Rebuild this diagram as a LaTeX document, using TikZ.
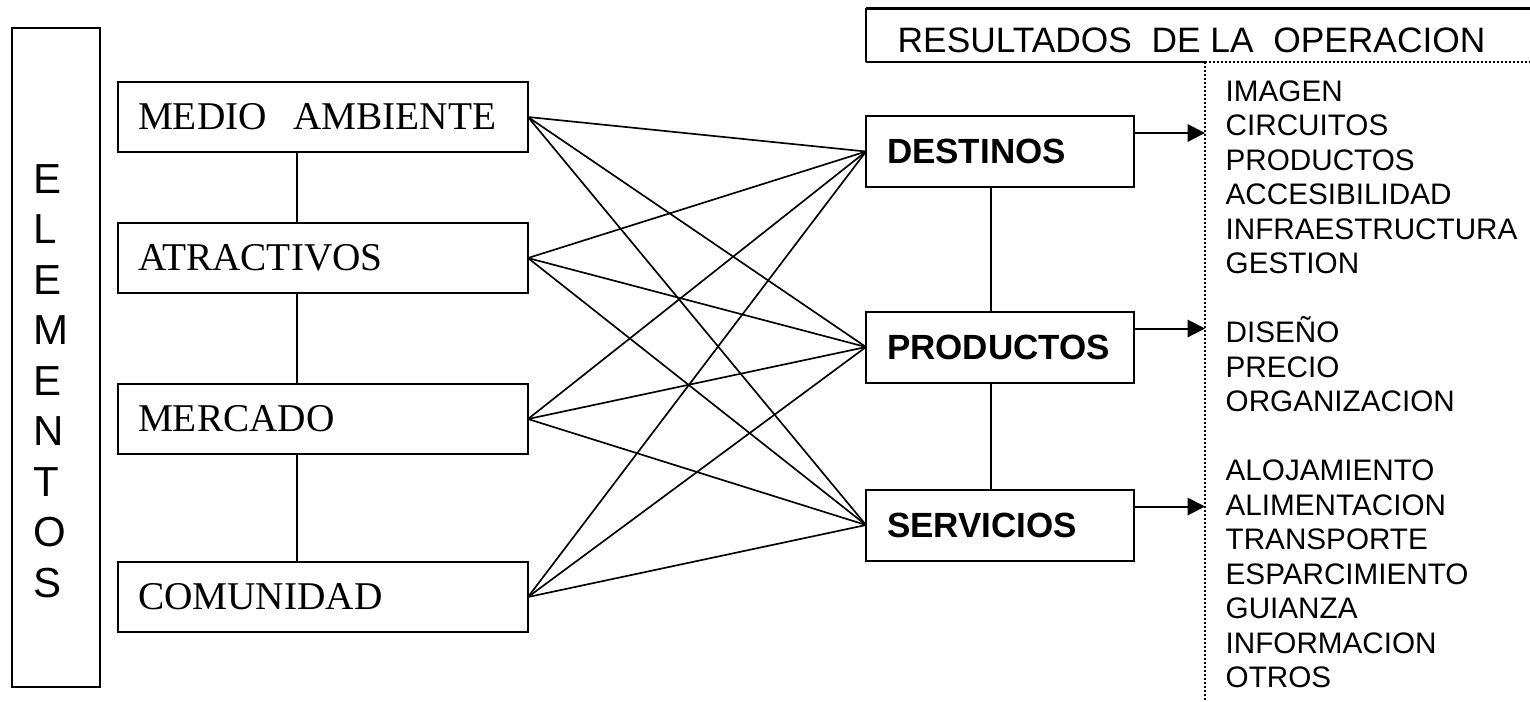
\documentclass[tikz,border=0pt]{standalone}
\usepackage{fontspec}
\setmainfont{Liberation Serif}
\newfontfamily\arialfont{Liberation Sans}
\usetikzlibrary{arrows.meta}
\newcommand{\px}{0.3pt}

\begin{document}
\begin{tikzpicture}[x=0.3pt,y=-0.3pt]
		\tikzstyle{elembox}=[draw, line width=0.6pt, outer sep=0pt, minimum height=70*\px, text width=370*\px, inner xsep=20*\px, align=left, font=\fontsize{11.8}{14}\selectfont]
		\tikzstyle{opbox}=[draw, line width=0.6pt, outer sep=0pt, minimum height=71*\px, text width=226*\px, inner xsep=21*\px, align=left, font=\arialfont\bfseries\fontsize{10.5}{12}\selectfont]
		\tikzstyle{letra}=[inner sep=0pt, font=\arialfont\fontsize{12.6}{14}\selectfont]
		\tikzstyle{item}=[inner sep=0pt, font=\arialfont\fontsize{8.9}{10}\selectfont]
		\tikzstyle{cruce}=[line width=0.5pt]
		\tikzstyle{union}=[line width=0.6pt]
		\tikzstyle{flecha}=[line width=0.6pt, -{Triangle[length=5.2pt,width=5.2pt]}]
		\tikzstyle{punteado}=[line width=0.6pt, dash pattern=on 0.6pt off 0.6pt]
		\useasboundingbox (0,0) rectangle (1530,701);

		% columna ELEMENTOS
		\node[draw, line width=0.6pt, minimum width=88*\px, minimum height=659*\px] (elem) at (56,357.5) {};
		\foreach \l [count=\i from 0] in {E,L,E,M,E,N,T,O,S}
			\node[letra, anchor=base west] (l\i) at (33,193+50.5*\i) {\l};

		% elementos
		\node[elembox] (ma) at (323,117) {MEDIO\ \ AMBIENTE};
		\node[elembox] (at) at (323,258) {ATRACTIVOS};
		\node[elembox] (me) at (323,419) {MERCADO};
		\node[elembox] (co) at (323,597) {COMUNIDAD};

		\draw[union] ([xshift=-26*\px]ma.south) -- ([xshift=-26*\px]at.north);
		\draw[union] ([xshift=-26*\px]at.south) -- ([xshift=-26*\px]me.north);
		\draw[union] ([xshift=-26*\px]me.south) -- ([xshift=-26*\px]co.north);

		% operacion
		\node[opbox] (de) at (1000,151.5) {DESTINOS};
		\node[opbox] (pr) at (1000,347) {PRODUCTOS};
		\node[opbox] (se) at (1000,525) {SERVICIOS};

		\draw[union] ([xshift=-9*\px]de.south) -- ([xshift=-9*\px]pr.north);
		\draw[union] ([xshift=-9*\px]pr.south) -- ([xshift=-9*\px]se.north);

		\foreach \a in {ma,at,me,co}
			\foreach \b in {de,pr,se}
				\draw[cruce] (\a.east) -- (\b.west);

		% resultados
		\draw[line width=0.9pt] (1540,8) -- (866,8);
		\draw[union] (866,8) -- (866,62);
		\coordinate (dl) at (1205,62);
		\draw[union] (866,62) -- (dl);
		\node[inner sep=0pt, anchor=base west, font=\arialfont\fontsize{10.6}{12}\selectfont] (res) at (897,52) {RESULTADOS\ \ DE LA\ \ OPERACION};
		\draw[punteado] (dl) -- (1540,62);
		\draw[punteado] (dl) -- (1205,710);

		\draw[flecha] ([yshift=18.5*\px]de.east) coordinate (fd) -- (fd -| dl);
		\draw[flecha] ([yshift=18.5*\px]pr.east) coordinate (fp) -- (fp -| dl);
		\draw[flecha] ([yshift=18.5*\px]se.east) coordinate (fs) -- (fs -| dl);

		\foreach \w/\i in {IMAGEN/0, CIRCUITOS/1, PRODUCTOS/2, ACCESIBILIDAD/3, INFRAESTRUCTURA/4, GESTION/5, DISEÑO/7, PRECIO/8, ORGANIZACION/9, ALOJAMIENTO/11, ALIMENTACION/12, TRANSPORTE/13, ESPARCIMIENTO/14, GUIANZA/15, INFORMACION/16, OTROS/17}
			\node[item, anchor=base west] (r\i) at (1225,101+34.5*\i) {\w};
\end{tikzpicture}
\end{document}
